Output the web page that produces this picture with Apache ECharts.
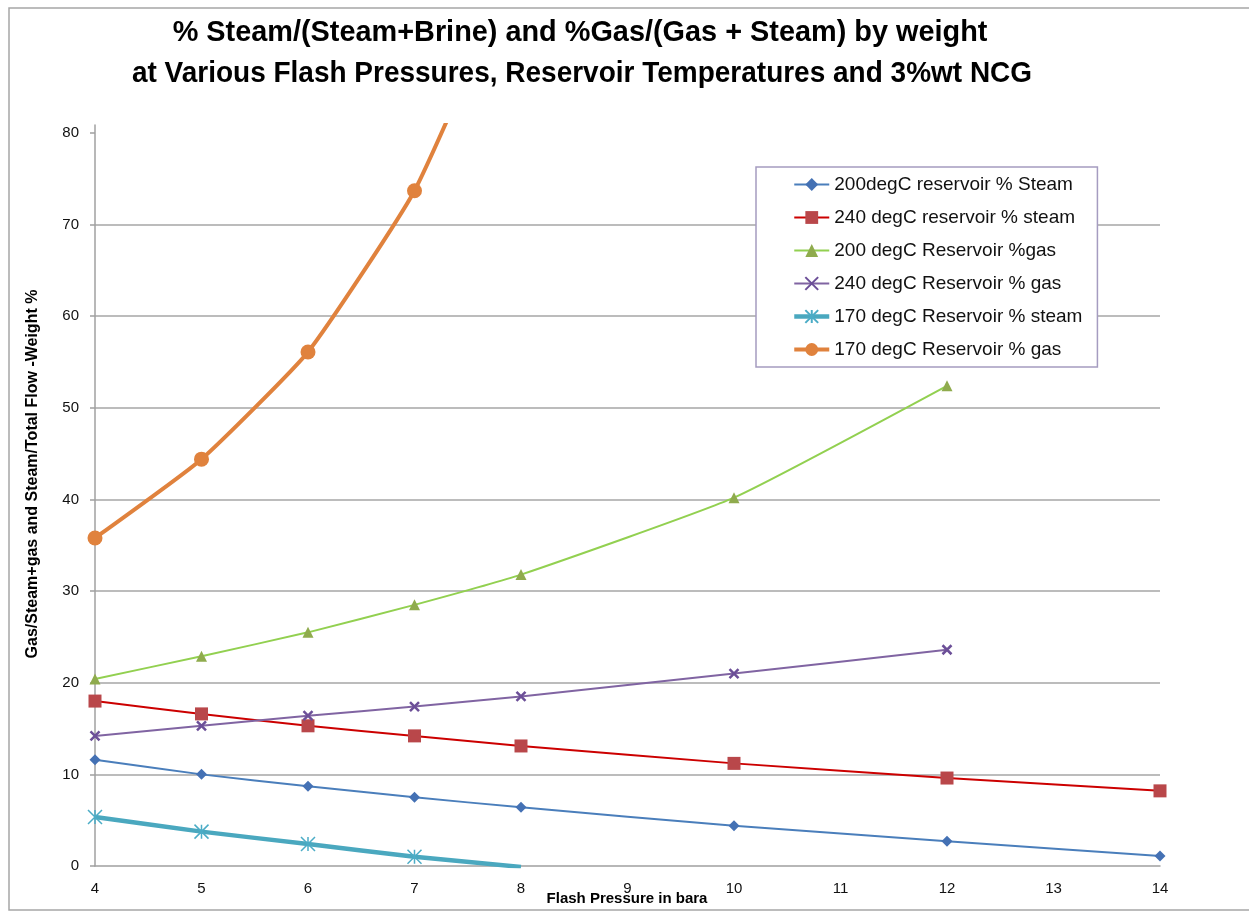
<!DOCTYPE html>
<html>
<head>
<meta charset="utf-8">
<title>Steam and gas fractions vs flash pressure</title>
<script src="https://cdn.jsdelivr.net/npm/echarts@6/dist/echarts.min.js"></script>
<style>
  html, body { margin: 0; padding: 0; background: #ffffff; }
  #chart { width: 1249px; height: 912px; }
</style>
</head>
<body>
<div id="chart"></div>
<script>
// Flash pressure (bara) at which each case was evaluated
const pressures = [4, 5, 6, 7, 8, 10, 12, 14];
const pressures170 = [4, 5, 6, 7, 8];

// Weight percentages per case
const steam200 = [11.6, 10.0, 8.7, 7.5, 6.4, 4.4, 2.7, 1.1];
const steam240 = [18.0, 16.6, 15.3, 14.2, 13.1, 11.2, 9.6, 8.2];
const gas200 = [20.4, 22.9, 25.5, 28.5, 31.8, 40.2, 52.4];
const gas240 = [14.2, 15.3, 16.4, 17.4, 18.5, 21.0, 23.6];
const steam170 = [5.35, 3.75, 2.4, 1.0, -0.1];
const gas170 = [35.8, 44.4, 56.1, 73.7, 100];

// Axis tick labels
const xTicks = [4, 5, 6, 7, 8, 9, 10, 11, 12, 13, 14];
const yTicks = [0, 10, 20, 30, 40, 50, 60, 70, 80];

const seriesNames = [
  '200degC reservoir % Steam',
  '240 degC reservoir % steam',
  '200 degC Reservoir %gas',
  '240 degC Reservoir % gas',
  '170 degC Reservoir % steam',
  '170 degC Reservoir % gas'
];

const pair = (xs, ys) => ys.map((v, i) => [xs[i], v]);

const crossPath = 'path://M0 0 L10 10 M10 0 L0 10';
const starPath = 'path://M5 0 L5 10 M0 0 L10 10 M10 0 L0 10';

const uiFont = 'Liberation Sans, Arial, sans-serif';

// per-series look: line colour/width, marker shape/size/colour
const looks = [
  { line: '#4a7ebb', width: 2, symbol: 'diamond', size: 11, item: { color: '#4471b4' } },
  { line: '#cc0000', width: 2, symbol: 'rect', size: 13, item: { color: '#b9474a' } },
  { line: '#92d050', width: 2, symbol: 'triangle', size: 11, item: { color: '#8fab4d' } },
  { line: '#8064a2', width: 2, symbol: crossPath, size: 9,
    item: { color: '#6c4f98', borderColor: '#6c4f98', borderWidth: 2.5 } },
  { line: '#4aa8bf', width: 4.5, symbol: starPath, size: 14,
    item: { color: '#4bacc6', borderColor: '#4bacc6', borderWidth: 1.5 } },
  { line: '#e0823d', width: 4, symbol: 'circle', size: 15, item: { color: '#e0823d' } }
];

const seriesData = [
  pair(pressures, steam200),
  pair(pressures, steam240),
  pair(pressures, gas200),
  pair(pressures, gas240),
  pair(pressures170, steam170),
  pair(pressures170, gas170)
];

const series = seriesNames.map((name, i) => ({
  name: name,
  type: 'line',
  data: seriesData[i],
  smooth: 0.15,
  clip: true,
  symbol: looks[i].symbol,
  symbolSize: looks[i].size,
  showAllSymbol: true,
  lineStyle: { color: looks[i].line, width: looks[i].width },
  itemStyle: looks[i].item,
  emphasis: { disabled: true }
}));

const legendData = seriesNames.map((name, i) => ({
  name: name,
  lineStyle: { color: looks[i].line, width: looks[i].width }
}));

const chart = echarts.init(document.getElementById('chart'), null, { renderer: 'canvas' });

chart.setOption({
  backgroundColor: '#ffffff',
  animation: false,
  grid: { left: 95, right: 89, top: 125, bottom: 46, containLabel: false },
  xAxis: {
    type: 'value',
    min: 4,
    max: 14,
    interval: 1,
    axisLine: { show: true, lineStyle: { color: '#a0a0a0', width: 1.5 } },
    axisTick: { show: false },
    splitLine: { show: false },
    axisLabel: {
      customValues: xTicks,
      color: '#111111',
      fontFamily: uiFont,
      fontSize: 15,
      margin: 15
    }
  },
  yAxis: {
    type: 'value',
    min: 0,
    max: 80.87,
    interval: 10,
    axisLine: { show: true, lineStyle: { color: '#a0a0a0', width: 1.5 } },
    axisTick: {
      show: true,
      inside: false,
      length: 5,
      customValues: yTicks,
      lineStyle: { color: '#a0a0a0', width: 1.5 }
    },
    splitLine: {
      show: true,
      showMinLine: false,
      showMaxLine: false,
      lineStyle: { color: '#a6a6a6', width: 1.5 }
    },
    axisLabel: {
      customValues: yTicks,
      color: '#111111',
      fontFamily: uiFont,
      fontSize: 15,
      margin: 16
    }
  },
  legend: {
    orient: 'vertical',
    left: 756,
    top: 167,
    padding: [8, 15, 8, 36],
    itemGap: 14,
    itemWidth: 35,
    itemHeight: 16,
    backgroundColor: '#ffffff',
    borderColor: '#a59cc0',
    borderWidth: 1.5,
    textStyle: { color: '#111111', fontFamily: uiFont, fontSize: 19 },
    data: legendData
  },
  series: series,
  graphic: [
    {
      type: 'rect',
      silent: true,
      z: -10,
      shape: { x: 9, y: 8, width: 1260, height: 902 },
      style: { fill: 'none', stroke: '#a6a6a6', lineWidth: 1.5 }
    },
    {
      type: 'text',
      silent: true,
      x: 580,
      y: 33,
      scaleX: 0.962,
      style: {
        text: '% Steam/(Steam+Brine) and %Gas/(Gas + Steam) by weight',
        fill: '#000000',
        font: 'bold 30px ' + uiFont,
        textAlign: 'center',
        textVerticalAlign: 'middle'
      }
    },
    {
      type: 'text',
      silent: true,
      x: 582,
      y: 74,
      scaleX: 0.933,
      style: {
        text: 'at Various Flash Pressures, Reservoir Temperatures and 3%wt NCG',
        fill: '#000000',
        font: 'bold 30px ' + uiFont,
        textAlign: 'center',
        textVerticalAlign: 'middle'
      }
    },
    {
      type: 'text',
      silent: true,
      x: 33,
      y: 474,
      rotation: Math.PI / 2,
      style: {
        text: 'Gas/Steam+gas and Steam/Total Flow -Weight %',
        fill: '#000000',
        font: 'bold 16px ' + uiFont,
        textAlign: 'center',
        textVerticalAlign: 'middle'
      }
    },
    {
      type: 'text',
      silent: true,
      x: 627,
      y: 899,
      style: {
        text: 'Flash Pressure in bara',
        fill: '#000000',
        font: 'bold 15px ' + uiFont,
        textAlign: 'center',
        textVerticalAlign: 'middle'
      }
    }
  ]
});
</script>
</body>
</html>
